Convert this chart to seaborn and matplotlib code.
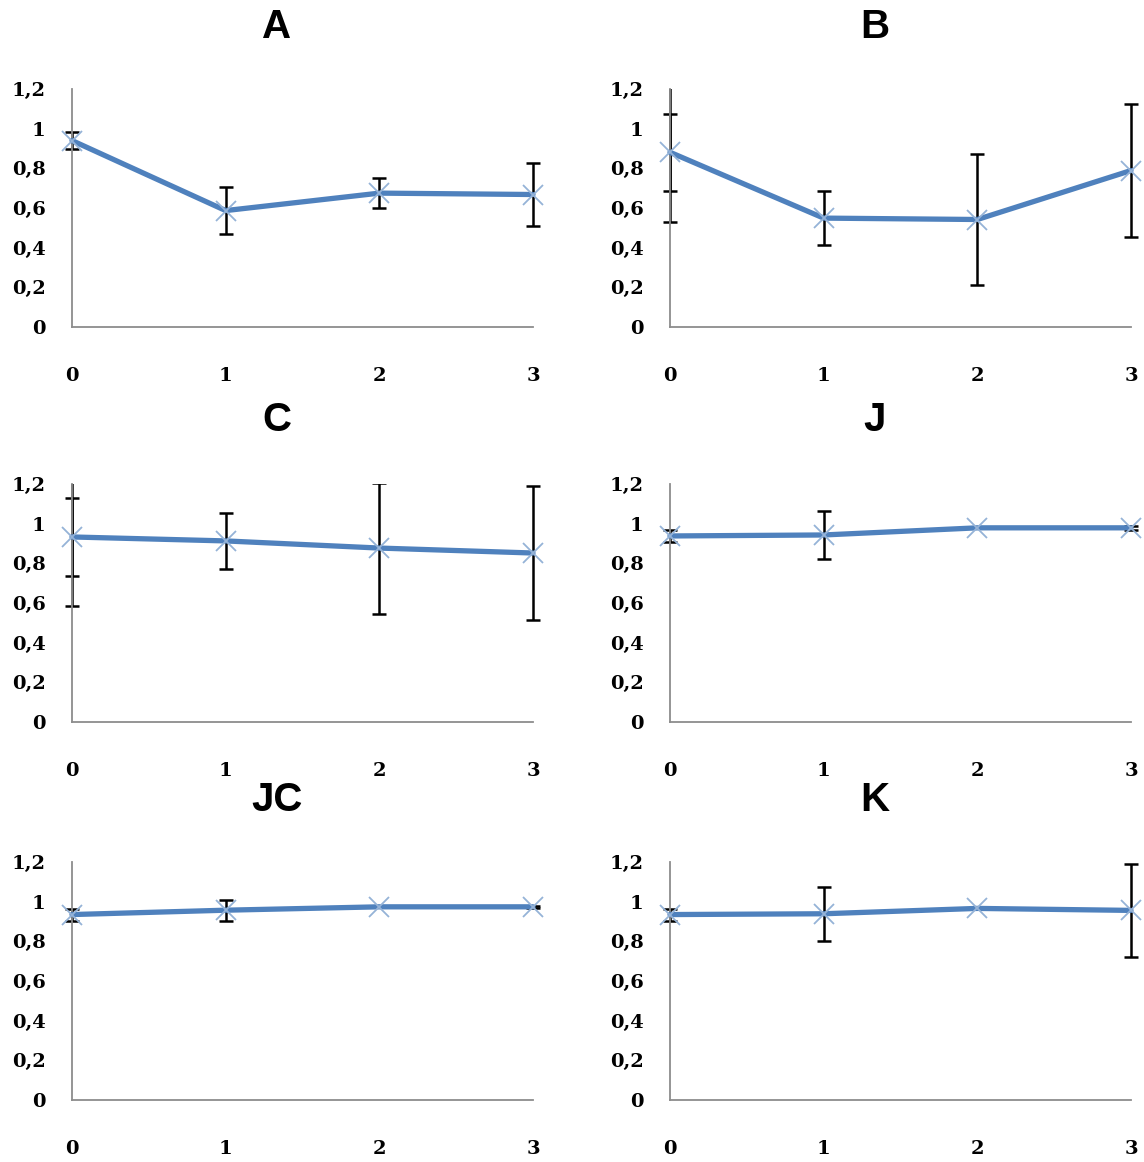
import numpy as np
import pandas as pd
import matplotlib
matplotlib.use("Agg")
import matplotlib.pyplot as plt
import seaborn as sns
from matplotlib.patches import Rectangle
from matplotlib.ticker import FuncFormatter

sns.set_style("white")
plt.rcParams['font.family'] = ['Liberation Sans', 'DejaVu Sans']

days = [0, 1, 2, 3]
panels = ["A", "B", "C", "J", "JC", "K"]

mean_A = [0.94, 0.587, 0.675, 0.668]
err_A = [0.045, 0.12, 0.075, 0.16]
mean_B = [0.881, 0.549, 0.542, 0.789]
err_B = [0.195, 0.137, 0.33, 0.335]
mean_C = [0.933, 0.913, 0.877, 0.852]
err_C = [0.195, 0.14, 0.33, 0.34]
mean_J = [0.938, 0.943, 0.979, 0.979]
err_J = [0.03, 0.12, 0.0, 0.01]
mean_JC = [0.935, 0.957, 0.974, 0.974]
err_JC = [0.03, 0.053, 0.0, 0.005]
mean_K = [0.935, 0.939, 0.966, 0.956]
err_K = [0.03, 0.135, 0.0, 0.236]

# second (wider) error bar drawn at day 0 in B and C
extra_err0 = {"B": 0.352, "C": 0.35}

means = {"A": mean_A, "B": mean_B, "C": mean_C, "J": mean_J, "JC": mean_JC, "K": mean_K}
errs = {"A": err_A, "B": err_B, "C": err_C, "J": err_J, "JC": err_JC, "K": err_K}

fig = plt.figure(figsize=(11.44, 11.62), dpi=100)
W, H = 1144, 1162
lefts = [72, 670]
tops = [89, 484, 862]
title_y = [27, 420, 800]
aw, ah = 461, 238

comma = FuncFormatter(lambda v, p: ("%g" % round(v, 1)).replace(".", ","))
tick_font = {"family": "DejaVu Serif", "weight": "bold", "size": 14}


def clip_wide(artists, ax):
    # clip only at top/bottom so bars at x=0 and x=3 stay whole
    box = Rectangle((-0.05, 0), 1.1, 1, transform=ax.transAxes)
    for a in artists:
        a.set_clip_path(box)


for i, name in enumerate(panels):
    r, c = divmod(i, 2)
    ax = fig.add_axes([lefts[c] / W, 1 - (tops[r] + ah) / H, aw / W, ah / H])
    df = pd.DataFrame({"day": days, "value": means[name]})
    eb = ax.errorbar(days, means[name], yerr=errs[name], fmt="none", ecolor="black",
                     elinewidth=1.8, capsize=5, capthick=1.8, zorder=2)
    clip_wide(eb.lines[1] + eb.lines[2], ax)
    if name in extra_err0:
        eb2 = ax.errorbar([0], [means[name][0]], yerr=[extra_err0[name]], fmt="none",
                          ecolor="black", elinewidth=1.8, capsize=5, capthick=1.8, zorder=2)
        clip_wide(eb2.lines[1] + eb2.lines[2], ax)
    sns.lineplot(data=df, x="day", y="value", ax=ax, color="#4F81BD", linewidth=3.8,
                 marker="x", markersize=14, markeredgecolor="#95B3D7",
                 markeredgewidth=1.3, zorder=3, clip_on=False)
    ax.set_xlim(0, 3)
    ax.set_ylim(0, 1.2)
    ax.set_xticks(days)
    ax.set_yticks([0, 0.2, 0.4, 0.6, 0.8, 1.0, 1.2])
    ax.yaxis.set_major_formatter(comma)
    ax.set_xlabel("")
    ax.set_ylabel("")
    for s in ["top", "right"]:
        ax.spines[s].set_visible(False)
    for s in ["left", "bottom"]:
        ax.spines[s].set_color("#8c8c8c")
        ax.spines[s].set_linewidth(1.3)
    ax.tick_params(axis="y", direction="out", length=7, width=1.3, color="#8c8c8c", pad=12)
    ax.tick_params(axis="x", direction="out", length=7, width=1.3, color="#8c8c8c", pad=22)
    for lab in ax.get_xticklabels() + ax.get_yticklabels():
        lab.set_fontproperties(tick_font)
        lab.set_color("black")
    fig.text((lefts[c] + 205) / W, 1 - title_y[r] / H, name, ha="center", va="center",
             fontsize=29, fontweight="bold", color="black")

fig.savefig("out.png", dpi=100)
